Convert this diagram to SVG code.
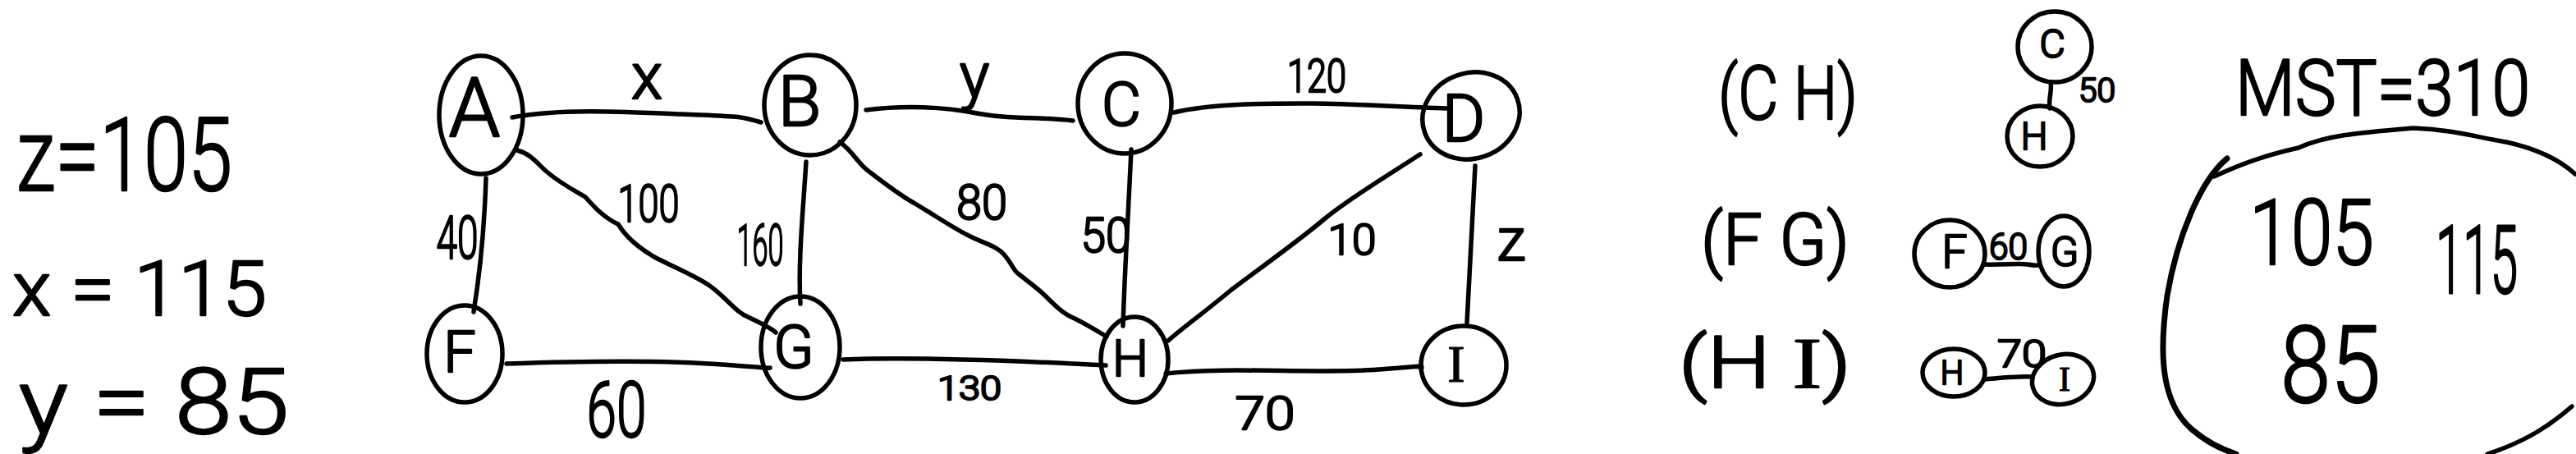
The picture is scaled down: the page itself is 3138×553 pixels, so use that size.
<svg xmlns="http://www.w3.org/2000/svg" width="3138" height="553" viewBox="0 0 3138 553">
<style>
.n{fill:none;stroke:#000;stroke-width:5.5;stroke-linecap:round;stroke-linejoin:round}
.e{fill:none;stroke:#000;stroke-width:5.5;stroke-linecap:round;stroke-linejoin:round}
.t{font-family:Roboto,"Liberation Sans",sans-serif;font-weight:300;fill:#000;stroke:#000;stroke-width:2.4;stroke-linejoin:round}
.c{text-anchor:middle}
.s{font-family:"Liberation Serif",serif;font-weight:400;stroke-width:1.2}
</style>
<rect width="3138" height="553" fill="#fff"/>

<g id="equations">
<text class="t" x="20" y="232" font-size="125" textLength="263" lengthAdjust="spacingAndGlyphs">z=105</text>
<text class="t" x="15" y="384" font-size="92" textLength="310" lengthAdjust="spacingAndGlyphs">x = 115</text>
<text class="t" x="23" y="528" font-size="112" textLength="329" lengthAdjust="spacingAndGlyphs">y = 85</text>
</g>

<g id="connectors">
<path id="e-AB" class="e" d="M624,143 C680,132 760,136 830,139 S900,141 927,149"/>
<path id="e-BC" class="e" d="M1055,134 C1100,128 1150,130 1190,138 S1270,142 1307,147"/>
<path id="e-CD" class="e" d="M1430,137 C1480,125 1560,126 1600,126 S1700,130 1762,132"/>
<path id="e-AF" class="e" d="M592,217 C590,280 585,330 577,380"/>
<path id="e-BG" class="e" d="M982,197 C978,260 972,320 975,370"/>
<path id="e-CH" class="e" d="M1378,182 C1375,250 1370,330 1368,397"/>
<path id="e-DI" class="e" d="M1797,202 C1793,280 1790,340 1787,393"/>
<path id="e-FG" class="e" d="M617,443 C700,440 800,438 880,444 S930,448 938,448"/>
<path id="e-GH" class="e" d="M1027,438 C1120,434 1250,440 1347,445"/>
<path id="e-HI" class="e" d="M1420,455 C1500,446 1600,456 1680,450 S1720,446 1732,448"/>
<path id="e-AG" class="e" d="M630,183 C648,188 655,200 667,210 C685,225 705,235 713,240 C722,250 735,265 753,273 C760,285 775,300 797,313 C820,325 845,335 863,347 C885,362 895,380 913,387 C930,395 940,400 945,405"/>
<path id="e-BH" class="e" d="M1023,173 C1040,185 1045,200 1060,210 C1080,225 1095,237 1113,247 C1140,263 1160,277 1180,287 C1200,297 1215,300 1223,310 C1232,320 1235,330 1240,333 C1255,345 1265,352 1273,360 C1285,372 1295,382 1307,387 C1320,393 1328,398 1348,410"/>
<path id="e-DH" class="e" d="M1730,188 C1680,220 1640,245 1613,267 C1580,295 1530,330 1500,353 C1470,378 1440,400 1423,415"/>
<path id="e-sCH" class="e" d="M2498,100 C2500,112 2495,120 2497,132"/>
<path id="e-sFG" class="e" d="M2417,322 C2440,323 2460,320 2470,322 S2480,323 2484,323"/>
<path id="e-sHI" class="e" d="M2418,462 C2440,460 2460,458 2476,459"/>
</g>

<g id="edge-labels">
<text class="t c" x="788" y="120" font-size="78">x</text>
<text class="t c" x="1187" y="118" font-size="76">y</text>
<text class="t c" x="1604" y="112" font-size="55" textLength="72" lengthAdjust="spacingAndGlyphs">120</text>
<text class="t c" x="790" y="270" font-size="63" textLength="75" lengthAdjust="spacingAndGlyphs">100</text>
<text class="t c" x="1196" y="267" font-size="60" textLength="62" lengthAdjust="spacingAndGlyphs">80</text>
<text class="t c" x="557" y="315" font-size="72" textLength="51" lengthAdjust="spacingAndGlyphs">40</text>
<text class="t c" x="926" y="323" font-size="70" textLength="57" lengthAdjust="spacingAndGlyphs">160</text>
<text class="t c" x="1347" y="307" font-size="60" textLength="61" lengthAdjust="spacingAndGlyphs">50</text>
<text class="t c" x="1647" y="310" font-size="52" textLength="59" lengthAdjust="spacingAndGlyphs">10</text>
<text class="t c" x="1841" y="317" font-size="72">z</text>
<text class="t c" x="751" y="532" font-size="95" textLength="73" lengthAdjust="spacingAndGlyphs">60</text>
<text class="t c" x="1181" y="487" font-size="40" textLength="78" lengthAdjust="spacingAndGlyphs">130</text>
<text class="t c" x="1541" y="523" font-size="56" textLength="73" lengthAdjust="spacingAndGlyphs">70</text>
</g>

<g id="node-A"><ellipse class="n" cx="586" cy="140" rx="51" ry="72"/><text class="t c" x="578" y="166" font-size="100">A</text></g>
<g id="node-B"><ellipse class="n" cx="987" cy="128" rx="56" ry="61"/><text class="t c" x="974" y="153" font-size="86">B</text></g>
<g id="node-C"><ellipse class="n" cx="1370" cy="126" rx="57" ry="61"/><text class="t c" x="1366" y="153" font-size="74">C</text></g>
<g id="node-D"><ellipse class="n" cx="1792" cy="141" rx="60" ry="52" transform="rotate(-20 1792 141)"/><text class="t c" x="1783" y="172" font-size="80">D</text></g>
<g id="node-F"><ellipse class="n" cx="566" cy="431" rx="46" ry="59"/><text class="t c" x="560" y="453" font-size="70">F</text></g>
<g id="node-G"><ellipse class="n" cx="975" cy="423" rx="48" ry="62"/><text class="t c" x="967" y="448" font-size="72">G</text></g>
<g id="node-H"><ellipse class="n" cx="1382" cy="438" rx="41" ry="52"/><text class="t c" x="1377" y="458" font-size="62">H</text></g>
<g id="node-I"><ellipse class="n" cx="1783" cy="445" rx="52" ry="48"/><text class="t c s" x="1774" y="465" font-size="64">I</text></g>

<g id="pairs">
<text class="t" x="2093" y="145" font-size="90" textLength="170" lengthAdjust="spacingAndGlyphs">(C H)</text>
<text class="t" x="2072" y="322" font-size="88" textLength="181" lengthAdjust="spacingAndGlyphs">(F G)</text>
<text class="t" x="2045" y="472" font-size="88" textLength="210" lengthAdjust="spacingAndGlyphs">(H <tspan class="s">I</tspan>)</text>
</g>

<g id="mini-C"><ellipse class="n" cx="2503" cy="57" rx="45" ry="43"/><text class="t c" x="2500" y="70" font-size="48">C</text></g>
<g id="mini-H1"><ellipse class="n" cx="2485" cy="166" rx="40" ry="37"/><text class="t c" x="2478" y="182" font-size="46">H</text></g>
<text class="t" x="2532" y="124" font-size="40" textLength="45" lengthAdjust="spacingAndGlyphs">50</text>

<g id="mini-F"><ellipse class="n" cx="2375" cy="309" rx="43" ry="41"/><text class="t c" x="2381" y="326" font-size="55">F</text></g>
<g id="mini-G"><ellipse class="n" cx="2514" cy="306" rx="31" ry="43"/><text class="t c" x="2515" y="324" font-size="50">G</text></g>
<text class="t" x="2423" y="316" font-size="44" textLength="47" lengthAdjust="spacingAndGlyphs">60</text>

<g id="mini-H2"><ellipse class="n" cx="2380" cy="454" rx="38" ry="29"/><text class="t c" x="2378" y="468" font-size="40">H</text></g>
<g id="mini-I"><ellipse class="n" cx="2513" cy="462" rx="38" ry="30" transform="rotate(-15 2513 462)"/><text class="t c s" x="2515" y="476" font-size="42">I</text></g>
<text class="t" x="2433" y="447" font-size="46" textLength="60" lengthAdjust="spacingAndGlyphs">70</text>

<g id="mst">
<text class="t" x="2723" y="140" font-size="95" textLength="359" lengthAdjust="spacingAndGlyphs">MST=310</text>
<path class="e" d="M2697,215 C2740,195 2770,187 2800,180 C2833,165 2870,162 2940,156 C2990,158 3020,168 3053,173 C3085,180 3115,192 3137,212"/>
<path class="e" style="stroke-width:7" d="M2713,193 C2680,220 2652,290 2640,360 C2630,430 2632,490 2670,523 C2690,540 2708,548 2724,553"/>
<path class="e" d="M3133,495 C3110,515 3080,537 3030,553"/>
<text class="t" x="2740" y="322" font-size="112" textLength="152" lengthAdjust="spacingAndGlyphs">105</text>
<text class="t" transform="translate(2967 357) scale(1 1.25)" x="0" y="0" font-size="92" textLength="100" lengthAdjust="spacingAndGlyphs">115</text>
<text class="t" x="2778" y="490" font-size="130" textLength="122" lengthAdjust="spacingAndGlyphs">85</text>
</g>
</svg>
